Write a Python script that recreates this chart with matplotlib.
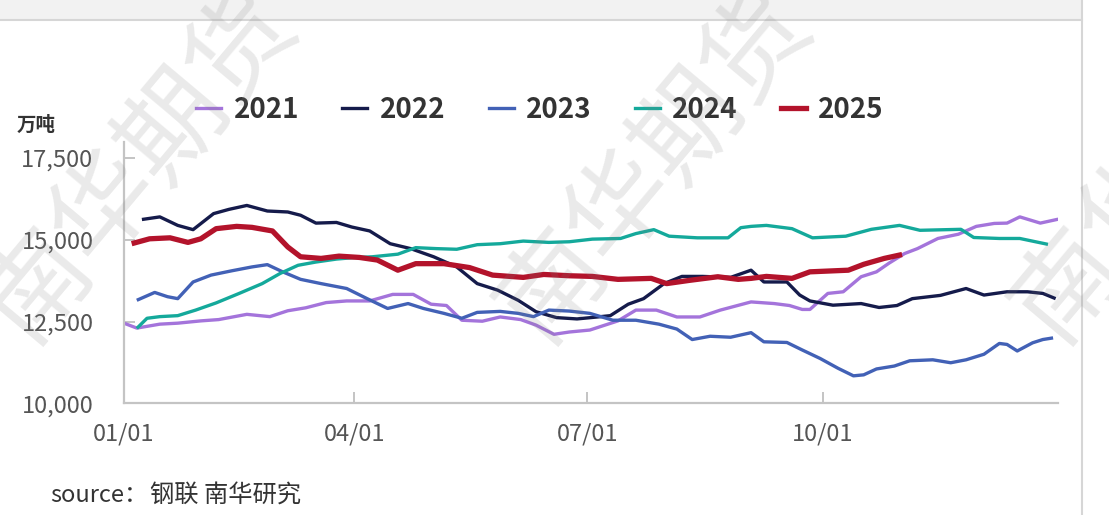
import numpy as np
import matplotlib.pyplot as plt
from matplotlib.patches import Rectangle
from matplotlib.lines import Line2D

plt.rcParams['font.family'] = ['Noto Sans CJK SC', 'DejaVu Sans']

# day of year -> 万吨
d2021 = [0, 5, 14, 21, 30, 37, 48, 57, 64, 71, 79, 87, 96, 105, 113, 120, 126, 132, 140, 147,
         155, 161, 168, 174, 182, 193, 200, 208, 216, 225, 233, 245, 254, 260, 265, 268, 275,
         281, 288, 294, 299, 305, 310, 318, 326, 333, 340, 345, 350, 358, 365]
v2021 = [12450, 12300, 12420, 12450, 12520, 12560, 12720, 12650, 12830, 12920, 13080, 13130,
         13130, 13330, 13330, 13030, 12990, 12540, 12510, 12640, 12560, 12390, 12110, 12180,
         12240, 12520, 12850, 12850, 12640, 12640, 12850, 13100, 13050, 12990, 12870, 12870,
         13360, 13410, 13870, 14020, 14290, 14580, 14730, 15040, 15170, 15410, 15500, 15510,
         15700, 15510, 15630]

d2022 = [7, 14, 21, 27, 35, 41, 48, 56, 64, 69, 75, 83, 89, 96, 104, 112, 121, 130, 138, 146,
         154, 161, 169, 177, 185, 190, 197, 203, 211, 218, 226, 237, 245, 250, 259, 264, 268,
         277, 288, 295, 302, 308, 319, 329, 336, 345, 353, 359, 364]
v2022 = [15620, 15700, 15440, 15310, 15800, 15930, 16050, 15880, 15850, 15750, 15510, 15530,
         15390, 15270, 14880, 14730, 14480, 14170, 13660, 13460, 13150, 12800, 12620, 12580,
         12640, 12680, 13030, 13200, 13660, 13880, 13880, 13850, 14070, 13710, 13710, 13310,
         13130, 13000, 13050, 12930, 12990, 13200, 13300, 13510, 13310, 13410, 13410, 13360,
         13200]

d2023 = [5, 12, 17, 21, 27, 34, 42, 50, 56, 62, 69, 77, 87, 95, 103, 111, 117, 125, 132, 138,
         147, 154, 160, 166, 174, 182, 191, 200, 209, 216, 222, 229, 237, 245, 250, 259, 265,
         272, 279, 285, 289, 294, 301, 307, 316, 323, 329, 336, 342, 345, 349, 355, 359, 363]
v2023 = [13150, 13390, 13260, 13200, 13710, 13920, 14050, 14170, 14240, 14020, 13790, 13660,
         13510, 13200, 12900, 13050, 12900, 12750, 12600, 12780, 12810, 12750, 12650, 12850,
         12820, 12750, 12540, 12540, 12420, 12270, 11950, 12050, 12020, 12160, 11880, 11860,
         11630, 11370, 11070, 10840, 10870, 11050, 11140, 11300, 11330, 11240, 11330, 11500,
         11830, 11800, 11600, 11850, 11950, 12000]

d2024 = [5, 9, 14, 21, 28, 36, 45, 54, 61, 68, 75, 83, 89, 97, 107, 114, 122, 130, 138, 147,
         156, 166, 174, 183, 194, 200, 207, 213, 224, 236, 241, 245, 251, 261, 269, 282, 292,
         303, 311, 327, 332, 342, 350, 361]
v2024 = [12290, 12600, 12650, 12680, 12850, 13070, 13360, 13660, 13970, 14220, 14320, 14410,
         14450, 14480, 14560, 14760, 14730, 14710, 14850, 14880, 14960, 14920, 14940, 15020,
         15040, 15190, 15310, 15110, 15060, 15060, 15370, 15410, 15440, 15340, 15060, 15110,
         15320, 15440, 15290, 15320, 15070, 15040, 15040, 14860]

d2025 = [3, 10, 18, 25, 30, 36, 44, 50, 58, 64, 69, 77, 84, 92, 99, 107, 114, 125, 135, 144,
         156, 164, 174, 183, 193, 206, 212, 221, 232, 240, 245, 251, 261, 268, 283, 289, 297, 304]
v2025 = [14880, 15030, 15060, 14920, 15030, 15340, 15410, 15380, 15270, 14780, 14480, 14430,
         14500, 14460, 14380, 14070, 14270, 14270, 14150, 13920, 13850, 13940, 13900, 13880,
         13790, 13820, 13660, 13760, 13870, 13790, 13820, 13880, 13820, 14020, 14070, 14250,
         14430, 14550]

years = ['2021', '2022', '2023', '2024', '2025']
colors = ['#a474db', '#151b4b', '#4261b6', '#14a99b', '#b3132b']
widths = [2.4, 2.4, 2.4, 2.4, 3.8]
series = [(d2021, v2021), (d2022, v2022), (d2023, v2023), (d2024, v2024), (d2025, v2025)]

xticks = [0, 90, 181, 273]
xlabels = ['01/01', '04/01', '07/01', '10/01']
yticks = [10000, 12500, 15000, 17500]

fig = plt.figure(figsize=(11.09, 5.15), dpi=100)
ax = fig.add_axes([0.1118, 0.2169, 0.8424, 0.508])

for (d, v), c, w in zip(series, colors, widths):
    ax.plot(d, v, color=c, lw=w, solid_joinstyle='round', solid_capstyle='butt')

ax.set_xlim(0, 365)
ax.set_ylim(10000, 18000)
ax.set_xticks(xticks)
ax.set_xticklabels(xlabels)
ax.set_yticks(yticks)
ax.set_yticklabels([f'{t:,}' for t in yticks])
for s in ['top', 'right']:
    ax.spines[s].set_visible(False)
for s in ['left', 'bottom']:
    ax.spines[s].set_color('#c4c4c4')
    ax.spines[s].set_linewidth(1.6)
ax.tick_params(axis='both', direction='in', length=8, width=1.4, color='#c4c4c4',
               labelsize=17, labelcolor='#555555')
ax.tick_params(axis='y', pad=22)
ax.tick_params(axis='x', pad=14)

fig.text(0.015, 0.746, '万吨', fontsize=14, color='#333333', fontweight='bold')

handles = [Line2D([0], [0], color=c, lw=w) for c, w in zip(colors, widths)]
leg = fig.legend(handles, years, loc='center', bbox_to_anchor=(0.487, 0.786), ncol=5,
                 frameon=False, fontsize=20, handlelength=0.9, handletextpad=0.45,
                 columnspacing=1.55)
for t in leg.get_texts():
    t.set_color('#333333')
    t.set_fontweight('bold')

fig.text(0.045, 0.026, 'source：', fontsize=17, color='#333333')
fig.text(0.135, 0.026, '钢联 南华研究', fontsize=17.5, color='#333333', style='italic')

# page frame
fig.patches.append(Rectangle((0, 1 - 19 / 515), 1082 / 1109, 19 / 515, transform=fig.transFigure,
                             facecolor='#f2f2f2', edgecolor='none', zorder=0))
fig.add_artist(Line2D([0, 1082 / 1109], [1 - 20 / 515, 1 - 20 / 515], transform=fig.transFigure,
                      color='#d6d6d6', lw=1.5))
fig.add_artist(Line2D([1082 / 1109, 1082 / 1109], [0, 1], transform=fig.transFigure,
                      color='#d6d6d6', lw=1.5))

# watermark
for cx in [140, 655, 1170]:
    fig.text(cx / 1109, 1 - 165 / 515, '南华期货', fontsize=76, color='#808080', alpha=0.17,
             rotation=50, ha='center', va='center', zorder=10)

fig.savefig('out.png', dpi=100)
